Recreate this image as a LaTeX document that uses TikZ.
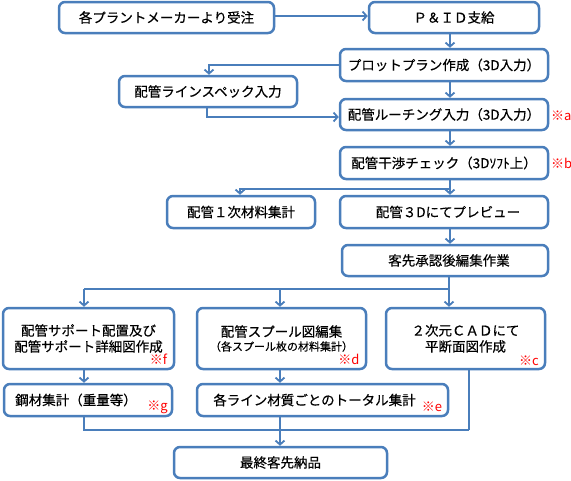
\documentclass[tikz,border=0pt]{standalone}
\usepackage{fontspec}
\setmainfont{Noto Sans CJK JP}[FakeBold=0.4]
\newfontfamily\remfont{Noto Sans CJK JP}
\usetikzlibrary{arrows.meta}
\definecolor{bl}{HTML}{4A7EBB}
\definecolor{rd}{HTML}{FF0000}
\tikzset{
  box/.style={draw=bl, line width=2.5pt, rounded corners=6pt, fill=white, inner sep=0pt, align=center, font=\fontsize{13.5}{16}\selectfont},
  conn/.style={draw=bl, line width=2.2pt, -{Straight Barb[length=4pt,width=9pt,line width=1.8pt]}},
  plain/.style={draw=bl, line width=2.2pt},
  remark/.style={text=rd, font=\remfont\fontsize{13}{15}\selectfont, inner sep=0pt}
}
\begin{document}
\begin{tikzpicture}[x=1pt,y=-1pt]
\useasboundingbox (0,0) rectangle (571,480);
\node[box, minimum width=215pt, minimum height=31pt] (a) at (166.5,17.5) {各プラントメーカーより受注};
\node[box, minimum width=170pt, minimum height=31pt] (b) at (454,17.5) {Ｐ＆ＩＤ支給};
\node[box, minimum width=208pt, minimum height=32pt] (c) at (444,65) {プロットプラン作成（3D入力）};
\node[box, minimum width=178pt, minimum height=31pt] (d) at (208,91.5) {配管ラインスペック入力};
\node[box, minimum width=208pt, minimum height=31pt] (e) at (444,114.5) {配管ルーチング入力（3D入力）};
\node[box, minimum width=208pt, minimum height=32pt] (f) at (444,163) {配管干渉チェック（3Dｿﾌﾄ上）};
\node[box, minimum width=148pt, minimum height=32pt] (g) at (241,212) {配管１次材料集計};
\node[box, minimum width=208pt, minimum height=32pt] (h) at (444,212) {\hspace*{8pt}配管３Dにてプレビュー};
\node[box, minimum width=206pt, minimum height=31pt] (i) at (445,260.5) {\hspace*{8pt}客先承認後編集作業};
\node[box, minimum width=171pt, minimum height=61pt] (j) at (88.5,338.5) {配管サポート配置及び\\配管サポート詳細図作成};
\node[box, minimum width=169pt, minimum height=61pt] (k) at (281.5,338.5) {配管スプール図編集\\[-2pt]{\fontsize{11}{12}\selectfont（各スプール枚の材料集計）}};
\node[box, minimum width=159pt, minimum height=61pt] (l) at (465.5,338.5) {２次元ＣＡＤにて\\平断面図作成};
\node[box, minimum width=168pt, minimum height=32pt] (m) at (88,400) {\hspace*{-24pt}鋼材集計（重量等）};
\node[box, minimum width=251pt, minimum height=32pt] (n) at (322.5,400) {\hspace*{-16pt}各ライン材質ごとのトータル集計};
\node[box, minimum width=213pt, minimum height=31pt] (o) at (280.5,462.5) {最終客先納品};
% marks
\node[remark, anchor=west] (ma) at (551,116) {※a};
\node[remark, anchor=west] (mb) at (551,163) {※b};
\node[remark] (mf) at (158.5,359) {※f};
\node[remark] (md) at (349,359) {※d};
\node[remark] (mc) at (529,361) {※c};
\node[remark] (mg) at (157.5,407) {※g};
\node[remark] (me) at (432,407) {※e};
% connectors
\coordinate (p1) at (209,65);
\coordinate (p2) at (207,117);
\coordinate (p3) at (240,189);
\coordinate (p4) at (449,289);
\coordinate (p5) at (84,289);
\coordinate (p6) at (280,289);
\coordinate (p7) at (84,430);
\coordinate (p8) at (469,430);
\coordinate (p9) at (280,430);
\draw[conn] (a.east |- 0,16) -- (b.west |- 0,16);
\draw[conn] (b.south -| 450,0) -- (c.north -| 450,0);
\draw[conn] (c.west |- p1) -| (d.north -| p1);
\draw[conn] (d.south -| p2) |- (e.west |- p2);
\draw[conn] (c.south -| 450,0) -- (e.north -| 450,0);
\draw[conn] (e.south -| 450,0) -- (f.north -| 450,0);
\draw[conn] (f.south -| 450,0) -- (h.north -| 450,0);
\draw[conn] (450,189) -| (g.north -| p3);
\draw[conn] (h.south -| 450,0) -- (i.north -| 450,0);
\draw[plain] (i.south -| p4) -- (p4);
\draw[plain] (p5) -- (p4);
\draw[conn] (p4) -- (l.north -| p4);
\draw[conn] (p5) -- (j.north -| p5);
\draw[conn] (p6) -- (k.north -| p6);
\draw[conn] (j.south -| p5) -- (m.north -| p5);
\draw[conn] (k.south -| p6) -- (n.north -| p6);
\draw[plain] (m.south -| p7) |- (p8);
\draw[plain] (l.south -| p8) -- (p8);
\draw[conn] (n.south -| p9) -- (o.north -| p9);
\end{tikzpicture}
\end{document}
